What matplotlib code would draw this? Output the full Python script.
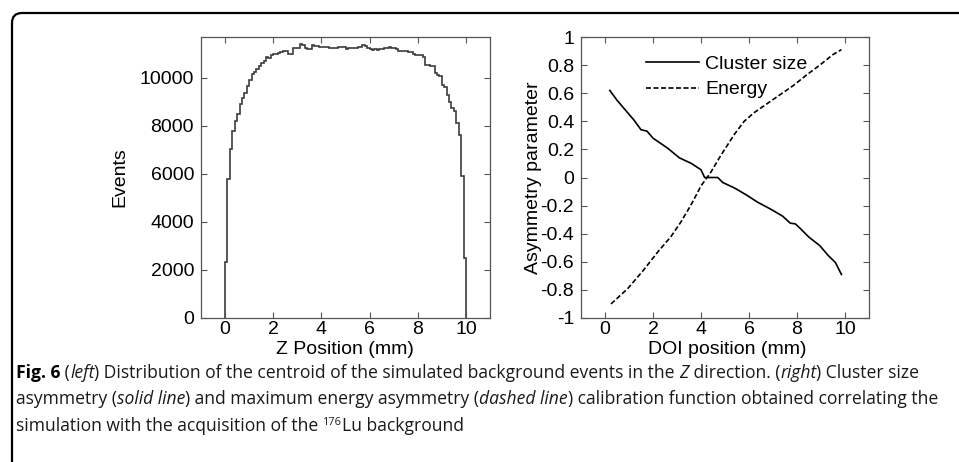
import numpy as np
import matplotlib
matplotlib.use("Agg")
import matplotlib.pyplot as plt
import matplotlib.transforms as mtransforms
from matplotlib.patches import FancyBboxPatch
from matplotlib.ticker import FormatStrFormatter

plt.rcParams['font.family'] = ['Liberation Sans', 'DejaVu Sans']
plt.rcParams['axes.unicode_minus'] = False

# ---- data ----
# left: histogram of centroid Z position, 100 bins over 0..10 mm
z_edges = np.linspace(0.0, 10.0, 101)
z_counts = [
    2350, 5780, 7030, 7800, 8220, 8500, 8920, 9150, 9360, 9640,
    9900, 10170, 10260, 10360, 10500, 10610, 10680, 10860, 10820, 10960,
    11000, 11000, 11030, 11060, 11100, 11100, 11000, 11010, 11240, 11230,
    11260, 11400, 11380, 11240, 11200, 11210, 11350, 11340, 11320, 11300,
    11300, 11280, 11280, 11260, 11240, 11230, 11260, 11270, 11300, 11290,
    11200, 11230, 11240, 11230, 11260, 11270, 11300, 11350, 11340, 11230,
    11200, 11160, 11200, 11160, 11180, 11200, 11240, 11260, 11270, 11260,
    11260, 11200, 11100, 11100, 11120, 11100, 11070, 11070, 10990, 10960,
    10930, 10930, 10850, 10540, 10540, 10500, 10480, 10190, 10100, 10060,
    9700, 9600, 9290, 9000, 8740, 8600, 8100, 7600, 5920, 2490,
]

# right: asymmetry calibration curves
cs_x = [0.2, 0.5, 0.9, 1.2, 1.5, 1.75, 2.0, 2.3, 2.6, 3.1, 3.6, 4.0, 4.15,
        4.7, 4.9, 5.4, 5.9, 6.35, 6.9, 7.4, 7.72, 7.93, 8.15, 8.5, 8.95,
        9.3, 9.6, 9.85]
cs_y = [0.62, 0.55, 0.47, 0.41, 0.34, 0.33, 0.28, 0.245, 0.21, 0.14, 0.10,
        0.055, 0.0, 0.0, -0.035, -0.075, -0.125, -0.175, -0.225, -0.275,
        -0.325, -0.33, -0.365, -0.425, -0.485, -0.555, -0.605, -0.69]
en_x = [0.25, 0.95, 1.6, 2.2, 2.75, 3.15, 3.6, 4.0, 4.4, 4.8, 5.1, 5.4,
        5.8, 6.2, 6.75, 7.3, 7.85, 8.4, 8.95, 9.5, 9.85]
en_y = [-0.9, -0.79, -0.66, -0.53, -0.42, -0.32, -0.19, -0.06, 0.035, 0.15,
        0.23, 0.31, 0.4, 0.46, 0.525, 0.59, 0.655, 0.73, 0.8, 0.875, 0.91]

W, H = 959, 462
TICK_FS = 14
CAP_FONT = ['Liberation Sans Narrow', 'Open Sans', 'DejaVu Sans']


def style_axes(ax):
    for s in ax.spines.values():
        s.set_color('#555555')
        s.set_linewidth(0.9)
    ax.tick_params(direction='in', length=4, width=0.8, color='#555555',
                   top=True, right=True, labelsize=TICK_FS, labelcolor='black')
    ax.tick_params(axis='x', pad=2)
    ax.tick_params(axis='y', pad=5)


fig = plt.figure(figsize=(W / 100, H / 100), dpi=100)

# left panel
ax1 = fig.add_axes([201 / W, 1 - 318 / H, 289 / W, 281 / H])
ax1.stairs(z_counts, z_edges, color='#3c3c3c', linewidth=1.2)
ax1.set_xlim(-1, 11)
ax1.set_ylim(0, 11700)
ax1.set_xticks(np.arange(0, 11, 2))
ax1.set_yticks(np.arange(0, 10001, 2000))
style_axes(ax1)
ax1.set_xlabel('Z Position (mm)', fontsize=TICK_FS, va='center')
ax1.xaxis.set_label_coords((345 - 201) / 289, (318 - 349) / 281)
ax1.set_ylabel('Events', fontsize=TICK_FS, va='center')
ax1.yaxis.set_label_coords((120 - 201) / 289, 0.5)

# right panel
ax2 = fig.add_axes([581 / W, 1 - 318 / H, 288 / W, 281 / H])
ax2.plot(cs_x, cs_y, color='black', linewidth=1.2, label='Cluster size')
ax2.plot(en_x, en_y, color='black', linewidth=1.2, linestyle=(0, (3, 1.5)),
         label='Energy')
ax2.set_xlim(-1, 11)
ax2.set_ylim(-1, 1)
ax2.set_xticks(np.arange(0, 11, 2))
ax2.set_yticks(np.round(np.linspace(-1, 1, 11), 1))
ax2.yaxis.set_major_formatter(FormatStrFormatter('%g'))
style_axes(ax2)
ax2.set_xlabel('DOI position (mm)', fontsize=TICK_FS, va='center')
ax2.xaxis.set_label_coords((727 - 581) / 288, (318 - 349) / 281)
ax2.set_ylabel('Asymmetry parameter', fontsize=TICK_FS, va='center')
ax2.yaxis.set_label_coords((534 - 581) / 288, 0.5)
ax2.legend(loc='upper left', bbox_to_anchor=((646 - 581) / 288, (318 - 55) / 281),
           frameon=False, fontsize=TICK_FS, handlelength=2.7, handletextpad=0.35,
           borderpad=0, borderaxespad=0, labelspacing=0.42)

# rounded frame around the figure block (cut at right / bottom)
frame = FancyBboxPatch((12, -60), 1100, 449 + 60,
                       boxstyle='round,pad=0,rounding_size=10',
                       transform=mtransforms.IdentityTransform(),
                       facecolor='none', edgecolor='black', linewidth=1.6)
fig.add_artist(frame)

# caption, drawn run by run so bold / italic / superscript parts line up
renderer = fig.canvas.get_renderer()


def run_width(txt, kw):
    t = fig.text(0, 0, txt + '|', **kw)
    w1 = t.get_window_extent(renderer).width
    t.set_text('|')
    w2 = t.get_window_extent(renderer).width
    t.remove()
    return w1 - w2


def run_kw(style, size):
    kw = dict(fontsize=size, family=CAP_FONT, color='#1a1a1a')
    if style == 'b':
        kw['fontweight'] = 'bold'
        kw['color'] = 'black'
    elif style == 'i':
        kw['fontstyle'] = 'italic'
    elif style == 'sup':
        kw['fontsize'] = size * 0.62
    return kw


def line_width(runs, size):
    return sum(run_width(t, run_kw(s, size)) for t, s in runs)


def draw_runs(x0, base_y, runs, size):
    x = x0
    for txt, style in runs:
        kw = run_kw(style, size)
        y = base_y - (size * 0.45 if style == 'sup' else 0)
        fig.text(x / W, 1 - y / H, txt, va='baseline', ha='left', **kw)
        x += run_width(txt, kw)


cap1 = [('Fig. 6', 'b'), (' (', 'n'), ('left', 'i'),
        (') Distribution of the centroid of the simulated background events in the ', 'n'),
        ('Z', 'i'), (' direction. (', 'n'), ('right', 'i'), (') Cluster size', 'n')]
cap2 = [('asymmetry (', 'n'), ('solid line', 'i'),
        (') and maximum energy asymmetry (', 'n'), ('dashed line', 'i'),
        (') calibration function obtained correlating the', 'n')]
cap3 = [('simulation with the acquisition of the ', 'n'), ('176', 'sup'),
        ('Lu background', 'n')]

cap_size = 11.0 * (940 - 16) / line_width(cap2, 11.0)
draw_runs(16, 378, cap1, cap_size)
draw_runs(16, 404, cap2, cap_size)
draw_runs(16, 431, cap3, cap_size)

fig.savefig('out.png', dpi=100)
